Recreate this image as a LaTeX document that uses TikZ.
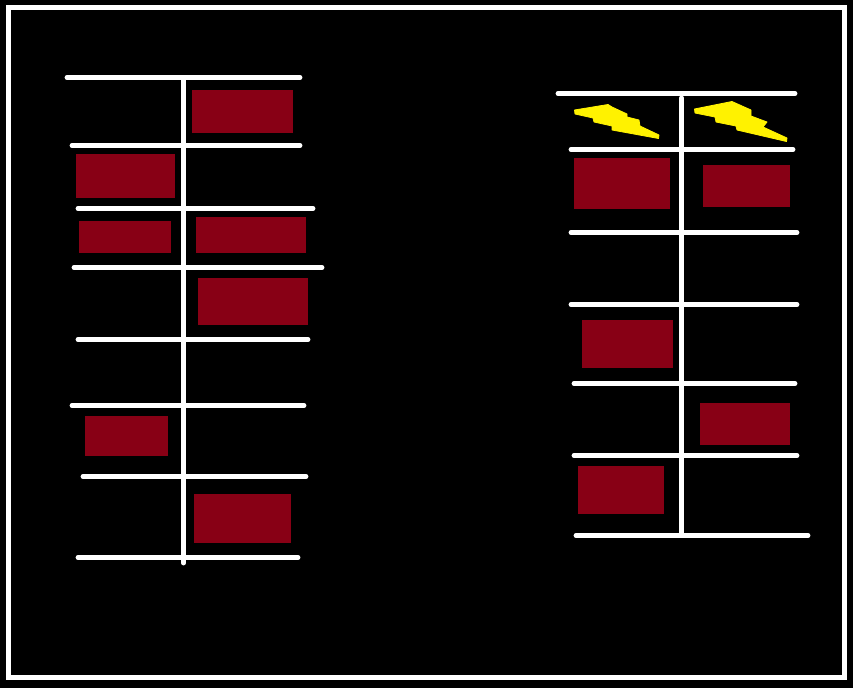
\documentclass[tikz,border=0pt]{standalone}
\definecolor{brick}{RGB}{136,0,21}
\definecolor{bolt}{RGB}{255,242,0}
\tikzset{
  wire/.style={draw=white,line width=4.8pt,line cap=round},
  frameline/.style={draw=white,line width=5pt,line join=miter},
  block/.style={fill=brick,draw=none},
  flash/.style={fill=bolt,draw=bolt,line width=0.8pt,line join=round}
}
\begin{document}
\begin{tikzpicture}[x=1pt,y=-1pt]
\useasboundingbox (0,0) rectangle (853,688);
\fill[black] (0,0) rectangle (853,688);
\draw[frameline] (8.5,7.5) rectangle (844.5,677.5);
% left ladder blocks
\path[block] (192,90) rectangle (293,133);
\path[block] (76,154) rectangle (175,198);
\path[block] (79,221) rectangle (171,253);
\path[block] (196,217) rectangle (306,253);
\path[block] (198,278) rectangle (308,325);
\path[block] (85,416) rectangle (168,456);
\path[block] (194,494) rectangle (291,543);
% right ladder blocks
\path[block] (574,158) rectangle (670,209);
\path[block] (703,165) rectangle (790,207);
\path[block] (582,320) rectangle (673,368);
\path[block] (700,403) rectangle (790,445);
\path[block] (578,466) rectangle (664,514);
% left ladder lines
\draw[wire] (183.5,78) -- (183.5,563);
\draw[wire] (67,77.5) -- (300,77.5);
\draw[wire] (72,145.5) -- (300,145.5);
\draw[wire] (78,208.5) -- (313,208.5);
\draw[wire] (74,267.5) -- (322,267.5);
\draw[wire] (78,339.5) -- (308,339.5);
\draw[wire] (72,405.5) -- (304,405.5);
\draw[wire] (83,476.5) -- (306,476.5);
\draw[wire] (78,557.5) -- (298,557.5);
% right ladder lines
\draw[wire] (681.5,98) -- (681.5,533);
\draw[wire] (558,93.5) -- (795,93.5);
\draw[wire] (571,149.5) -- (793,149.5);
\draw[wire] (571,232.5) -- (797,232.5);
\draw[wire] (571,304.5) -- (797,304.5);
\draw[wire] (574,383.5) -- (795,383.5);
\draw[wire] (574,455.5) -- (797,455.5);
\draw[wire] (576,535.5) -- (808,535.5);
% lightning bolts
\path[flash] (574.5,110) -- (608,104.5) -- (612,107) -- (627,114) -- (627,117) -- (639,120) -- (640,126) -- (659,135) -- (658.5,138.5) -- (612,130) -- (612,126) -- (594,122) -- (593,118) -- (575,114) -- cycle;
\path[flash] (694.5,109) -- (732,101.5) -- (751,110) -- (751,116) -- (767,122) -- (763,127) -- (787,138) -- (786.5,141.5) -- (737,130) -- (736,126) -- (716,122) -- (715,117) -- (695,113) -- cycle;
\end{tikzpicture}
\end{document}
